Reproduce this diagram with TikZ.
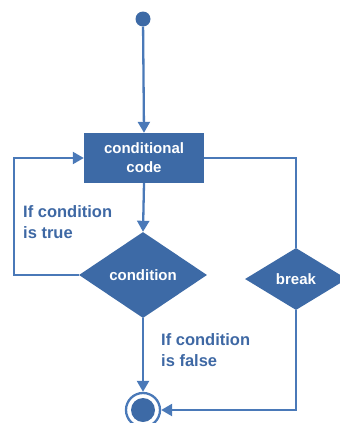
\documentclass[tikz,border=0pt]{standalone}
\usepackage{fontspec}
\setmainfont{Liberation Sans}
\usetikzlibrary{shapes.geometric,arrows.meta}
\definecolor{flowfill}{RGB}{61,106,166}
\definecolor{flowline}{RGB}{74,121,184}
\definecolor{flowtext}{RGB}{62,104,164}
\tikzset{
  flow/.style={draw=flowline, line width=2.3pt},
  arr/.style={flow, -{Triangle[length=11pt,width=12pt]}},
  block/.style={rectangle, fill=flowfill, text=white, font=\bfseries\fontsize{15}{19}\selectfont,
    minimum width=120pt, minimum height=50pt, inner sep=0pt, align=center},
  decide/.style={diamond, fill=flowfill, text=white, font=\bfseries\fontsize{15}{19}\selectfont,
    inner sep=0pt},
  note/.style={text=flowtext, font=\bfseries\fontsize{16.5}{20.5}\selectfont, align=left, anchor=west, inner sep=0pt},
}
\begin{document}
\begin{tikzpicture}[x=1pt, y=-1pt]
  \useasboundingbox (0,0) rectangle (340,423);
  % start and end points
  \node[circle, fill=flowfill, minimum size=15pt, inner sep=0pt] (start) at (143,19) {};
  \node[circle, draw=flowline, line width=2.3pt, minimum size=34pt, inner sep=0pt,
        path picture={\fill[flowfill] (path picture bounding box.center) circle (12pt);}] (end) at (143,410) {};
  % body of the loop and the two decisions
  \node[block] (code) at (144,158) {conditional\\code};
  \node[decide, minimum width=128pt, minimum height=86pt] (cond) at (143,275) {condition};
  \node[decide, minimum width=102pt, minimum height=62pt] (brk) at (296,279) {break};
  % labels on the branches
  \node[note] (ltrue) at (23,222) {If condition\\is true};
  \node[note] (lfalse) at (161,350) {If condition\\is false};
  % connectors
  \draw[arr] (start) -- (code.north);
  \draw[arr] (code.south) -- (cond.north);
  \draw[arr] (cond.west) -- (14,275) |- (code.west);
  \draw[flow] (code.east) -| (brk.north);
  \draw[arr] (brk.south) |- (end.east);
  \draw[arr] (cond.south) -- (end.north);
\end{tikzpicture}
\end{document}
